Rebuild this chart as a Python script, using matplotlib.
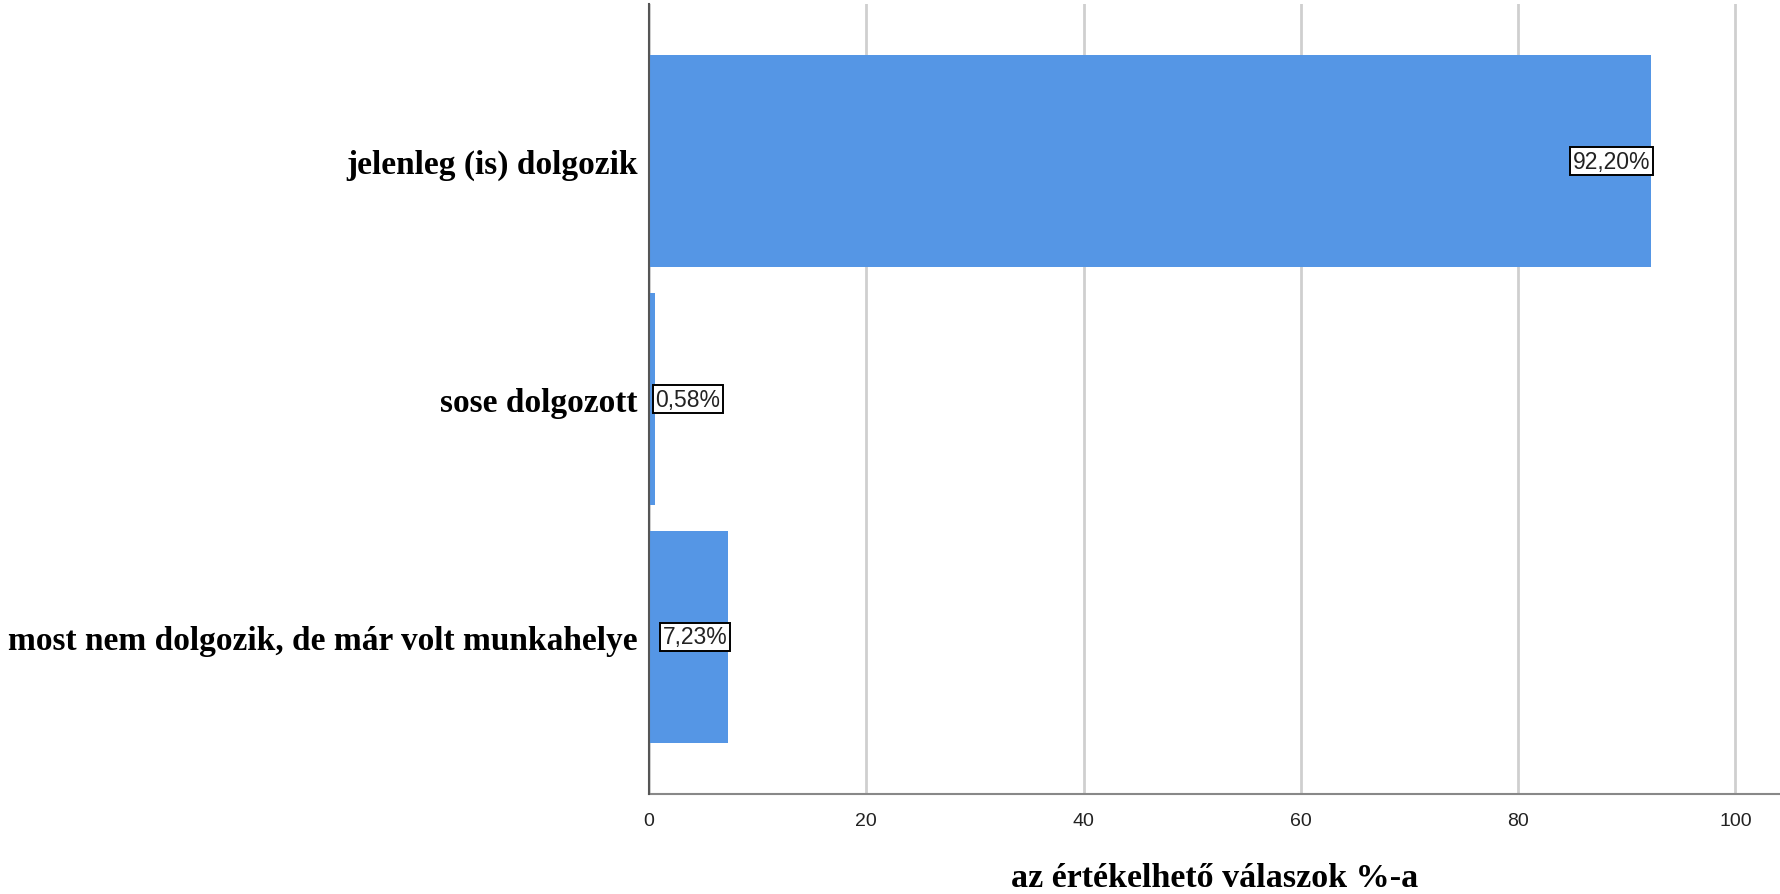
import matplotlib
matplotlib.use("Agg")
import matplotlib.pyplot as plt

categories = ["jelenleg (is) dolgozik", "sose dolgozott", "most nem dolgozik, de már volt munkahelye"]
values = [92.20, 0.58, 7.23]
value_labels = ["92,20%", "0,58%", "7,23%"]
xticks = [0, 20, 40, 60, 80, 100]
xlabel = "az értékelhető válaszok %-a"

fig = plt.figure(figsize=(17.8, 8.95), dpi=100)
ax = fig.add_axes([0.3646, 0.1117, 0.6354, 0.8827])

bar_color = "#5596e5"
ypos = list(range(len(categories)))
ax.barh(ypos, values, height=0.89, color=bar_color, zorder=3)
ax.set_ylim(2.66, -0.66)
ax.set_xlim(0, 104.1)

ax.set_xticks(xticks)
ax.set_xticklabels([str(t) for t in xticks], fontsize=14, family="Liberation Sans", color="#222222")
ax.set_yticks(ypos)
ax.set_yticklabels(categories, fontsize=24, family="Liberation Serif", fontweight="bold")
ax.tick_params(axis="both", length=0)
ax.tick_params(axis="x", pad=13)
ax.tick_params(axis="y", pad=8)

ax.grid(axis="x", color="#cfcfcf", linewidth=2.0, zorder=0)
ax.set_axisbelow(True)
for s in ["top", "right"]:
    ax.spines[s].set_visible(False)
ax.spines["left"].set_color("#555555")
ax.spines["left"].set_linewidth(1.5)
ax.spines["left"].set_zorder(4)
ax.spines["bottom"].set_color("#888888")
ax.spines["bottom"].set_linewidth(1.5)

for y, v, lab in zip(ypos, values, value_labels):
    ha = "right" if v > 5 else "left"
    ax.text(v, y, lab, ha=ha, va="center", fontsize=16.5, family="Liberation Sans",
            color="#222222", zorder=5,
            bbox=dict(boxstyle="square,pad=0.12", facecolor="white", edgecolor="black", linewidth=1.4))

ax.set_xlabel(xlabel, fontsize=24.5, family="Liberation Serif", fontweight="bold", labelpad=24)

fig.savefig("out.png", dpi=100)
